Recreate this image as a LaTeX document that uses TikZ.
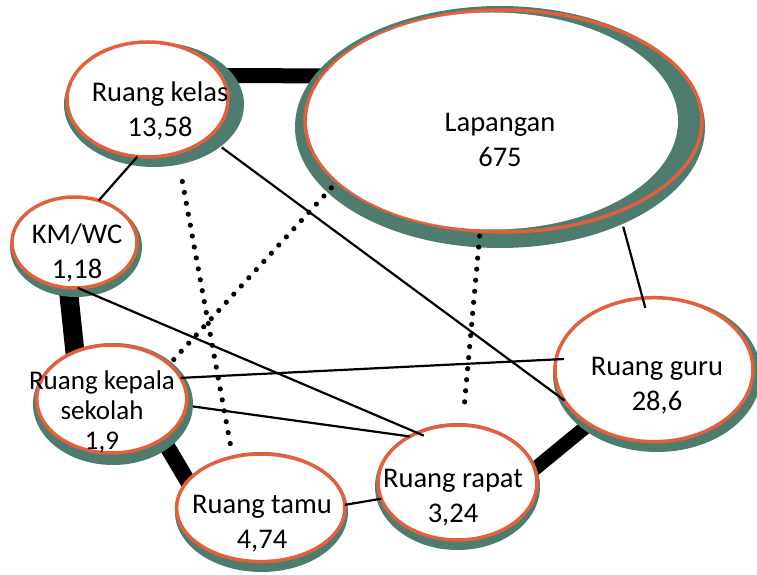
\documentclass[tikz,border=0pt]{standalone}
\usepackage{fontspec}
\setmainfont{Carlito}
\usetikzlibrary{calc,shapes.geometric}
\definecolor{rimteal}{RGB}{78,125,112}
\definecolor{rimorange}{RGB}{226,96,60}
\pgfdeclarelayer{bars}
\pgfdeclarelayer{shadows}
\pgfsetlayers{bars,shadows,main}
\begin{document}
\begin{tikzpicture}[x=1pt,y=1pt,
  room/.style={ellipse, draw=rimorange, line width=3.5pt, fill=white, inner sep=0pt, outer sep=0pt},
  lbl/.style={align=center, font=\fontsize{28.5}{35}\selectfont, inner sep=0pt},
  thinline/.style={line width=2.2pt},
  dotline/.style={line width=5.2pt, line cap=round, dash pattern=on 0pt off 11.1pt},
  shade/.style={fill=rimteal}]
\useasboundingbox (0,0) rectangle (757,575);

% rooms
\node[room, minimum width=161pt, minimum height=115pt] (kelas) at (147.5,475.5) {};
\node[room, fill=rimteal, minimum width=397pt, minimum height=222pt] (lap) at (503.5,454) {};
\fill[white] ($(lap)+(-11,0)$) ellipse [x radius=185.5pt, y radius=108.5pt];
\node[room, minimum width=125pt, minimum height=91pt] (kmwc) at (74.5,332.5) {};
\node[room, minimum width=150pt, minimum height=108pt] (kepala) at (111.7,176) {};
\node[room, minimum width=168.4pt, minimum height=107.6pt] (tamu) at (260.8,67.2) {};
\node[room, minimum width=159pt, minimum height=115pt] (rapat) at (457.5,92.5) {};
\node[room, minimum width=198pt, minimum height=144pt] (guru) at (654,205.3) {};

% shadows
\begin{pgfonlayer}{shadows}
\fill[shade] ($(kelas)+(6.5,-5)$) ellipse [x radius=90pt, y radius=62.5pt];
\fill[shade] ($(lap)+(-3.5,-6)$) ellipse [x radius=205pt, y radius=121pt];
\fill[shade] ($(kmwc)+(1.5,-4.5)$) ellipse [x radius=66pt, y radius=50pt];
\fill[shade] ($(kepala)+(1.3,-5)$) ellipse [x radius=80pt, y radius=61pt];
\fill[shade] ($(tamu)+(0.7,-4.2)$) ellipse [x radius=86.5pt, y radius=60pt];
\fill[shade] ($(rapat)+(0,-4)$) ellipse [x radius=82.5pt, y radius=63.5pt];
\fill[shade] ($(guru)+(3,-4.8)$) ellipse [x radius=104pt, y radius=77.5pt];
\end{pgfonlayer}

% heavy bars
\begin{pgfonlayer}{bars}
\draw[line width=15pt, shorten <=-12pt, shorten >=-12pt] (kelas.18) -- (lap.166);
\draw[line width=19pt, shorten <=-12pt, shorten >=-12pt] (kmwc.262) -- (kepala.128);
\draw[line width=16pt, shorten <=-12pt, shorten >=-12pt] (kepala.-38) -- (tamu.160);
\draw[line width=14pt, shorten <=-12pt, shorten >=-12pt] (rapat.10) -- (guru.220);
\end{pgfonlayer}

% labels
\node[lbl] (kelasT) at ($(kelas)+(12.5,-11.9)$) {Ruang kelas\\13,58};
\node[lbl] (lapT) at ($(lap)+(-3.5,-19.2)$) {Lapangan\\675};
\node[lbl] (kmwcT) at ($(kmwc)+(2.5,-10.9)$) {KM/WC\\1,18};
\node[lbl, font=\fontsize{27}{30}\selectfont] (kepalaT) at ($(kepala)+(-9.7,-13.3)$) {Ruang kepala\\sekolah\\1,9};
\node[lbl] (guruT) at ($(guru)+(3,-16.4)$) {Ruang guru\\28,6};
\node[lbl] (rapatT) at ($(rapat)+(-4.5,-14.9)$) {Ruang rapat\\3,24};
\node[lbl] (tamuT) at ($(tamu)+(1.2,-15.6)$) {Ruang tamu\\4,74};

% thin connectors
\draw[thinline] (kelas.260) -- (kmwc.60);
\draw[thinline, shorten <=17pt] (kelas.-32) -- (guru.199);
\draw[thinline, shorten <=16pt, shorten >=-10pt] (lap.-38) -- (guru.99);
\draw[thinline, shorten >=-7pt] (kmwc.-86) -- (rapat.129);
\draw[thinline, shorten >=-8pt] (kepala.17) -- (guru.174);
\draw[thinline, shorten <=7pt] (kepala.-5) -- (rapat.136);
\draw[thinline] (tamu.2) -- (rapat.192);

% dotted connectors
\draw[dotline, shorten <=29pt, shorten >=13pt] (kelas.-61) -- (tamu.119);
\draw[dotline, shorten <=8.5pt, shorten >=6pt] (lap.200) -- (kepala.31);
\draw[dotline, shorten <=4.8pt, shorten >=13.5pt] (lap.258) -- (rapat.85);
\end{tikzpicture}
\end{document}
